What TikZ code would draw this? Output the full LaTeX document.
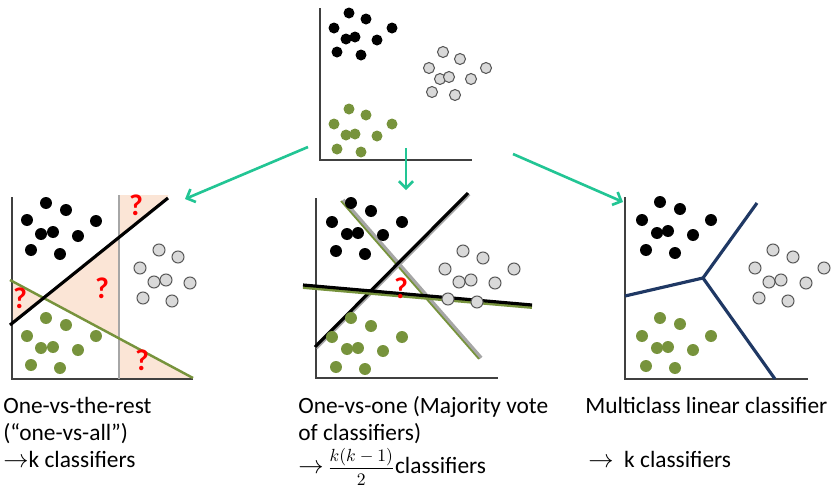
\documentclass[tikz,border=0pt]{standalone}
\usepackage{fontspec}
\usepackage{amsmath}
\setmainfont{Carlito}
\usetikzlibrary{arrows.meta}

\definecolor{dotgreen}{HTML}{77933C}
\definecolor{dotgray}{HTML}{D9D9D9}
\definecolor{rimgray}{HTML}{595959}
\definecolor{arrowteal}{HTML}{22C594}
\definecolor{bordblue}{HTML}{1F3864}
\definecolor{peach}{HTML}{FBE5D6}
\definecolor{axisgray}{HTML}{404040}
\definecolor{splitgray}{HTML}{A6A6A6}

\tikzset{
  blackdot/.style={fill=black},
  graydot/.style={fill=dotgray,draw=rimgray,line width=0.6pt},
  greendot/.style={fill=dotgreen},
  axisline/.style={axisgray,line width=0.8pt},
  flowarrow/.style={arrowteal,line width=1.5pt,-{Straight Barb[length=4pt,width=8pt]}},
  qmark/.style={text=red,inner sep=0pt,font=\bfseries\fontsize{17}{17}\selectfont},
  caption/.style={anchor=base west,inner sep=0pt,font=\fontsize{13.3}{16}\selectfont}
}

\begin{document}
\begin{tikzpicture}[x=0.02cm,y=-0.02cm]
\useasboundingbox (0,0) rectangle (833,487);

% top panel
\draw[axisline] (320,8) |- (472,160);
\foreach \x/\y in {349/13,366/19,334/28,346/39,355/37,377/40,392/28,337/52,361/55}
  \fill[blackdot] (\x,\y) circle[radius=0.11cm];
\foreach \x/\y in {443/52,460/59,429/68,440/79,449/77,471/79,486/68,432/92,455/95}
  \filldraw[graydot] (\x,\y) circle[radius=0.11cm];
\foreach \x/\y in {349/109,366/115,334/124,346/135,355/134,377/136,392/124,337/149,361/152}
  \fill[greendot] (\x,\y) circle[radius=0.11cm];

\coordinate (srcL) at (308,147);
\coordinate (srcM) at (406,148);
\coordinate (srcR) at (513,154);
\coordinate (dstL) at (185,199);
\coordinate (dstM) at (406,190);
\coordinate (dstR) at (623,202);
\draw[flowarrow] (srcL) -- (dstL);
\draw[flowarrow] (srcM) -- (dstM);
\draw[flowarrow] (srcR) -- (dstR);

% one-vs-the-rest
\fill[peach] (119,195) -- (168,195) -- (168,198) -- (119,237) -- cycle;
\fill[peach] (119,237) -- (119,338) -- (43.6,298) -- cycle;
\fill[peach] (12,281) -- (12,323.5) -- (43.6,298) -- cycle;
\fill[peach] (119,338) -- (119,379) -- (193,379) -- cycle;
\draw[axisline] (12,197) |- (193,379);
\draw[splitgray,line width=1.3pt] (119,195) -- (119,379);
\draw[dotgreen,line width=1.4pt] (10,280) -- (193,378);
\draw[black,line width=1.8pt] (10,325) -- (168,198);
\foreach \x/\y in {46/203,66/210,27/220,96/221,41/234,53/232,78/236,31/250,60/254}
  \fill[blackdot] (\x,\y) circle[radius=0.12cm];
\foreach \x/\y in {159/250,178/257,140/268,154/282,166/280,190/283,143/298,172/301}
  \filldraw[graydot] (\x,\y) circle[radius=0.12cm];
\foreach \x/\y in {46/318,66/325,27/336,96/336,41/348,53/347,78/350,31/365,60/368}
  \fill[greendot] (\x,\y) circle[radius=0.12cm];
\node[qmark] (q1) at (136,205) {?};
\node[qmark] (q2) at (102,288) {?};
\node[qmark] (q3) at (20,298) {?};
\node[qmark] (q4) at (142,360) {?};

% one-vs-one
\draw[axisline] (316,198) |- (498,378);
\draw[splitgray,line width=2.2pt] (343,200) -- (481,358);
\draw[dotgreen,line width=1pt] (341,201) -- (479,359);
\draw[splitgray,line width=2.2pt] (316,348) -- (469,194);
\draw[black,line width=1.8pt] (315,347) -- (468,193);
\draw[dotgreen,line width=2.2pt] (303,287) -- (532,307);
\draw[black,line width=1.8pt] (303,285) -- (532,305);
\foreach \x/\y in {351/203,371/211,332/222,402/222,347/234,358/233,383/235,336/251,365/254}
  \fill[blackdot] (\x,\y) circle[radius=0.12cm];
\foreach \x/\y in {463/251,483/258,445/269,459/282,471/280,495/283,514/269,448/299,477/302}
  \filldraw[graydot] (\x,\y) circle[radius=0.12cm];
\foreach \x/\y in {351/318,371/326,332/337,402/337,347/349,358/348,383/351,336/367,365/369}
  \fill[greendot] (\x,\y) circle[radius=0.12cm];
\node[qmark] (q5) at (401,288) {?};

% multiclass
\draw[axisline] (625,197) |- (808,379);
\coordinate (hub) at (703,278);
\draw[bordblue,line width=1.8pt] (hub) -- (757,203);
\draw[bordblue,line width=1.8pt] (hub) -- (625,296);
\draw[bordblue,line width=1.8pt] (hub) -- (775,379);
\foreach \x/\y in {660/202,680/209,642/220,711/220,657/233,668/231,693/235,646/250,675/253}
  \fill[blackdot] (\x,\y) circle[radius=0.12cm];
\foreach \x/\y in {773/250,793/257,755/268,769/282,781/280,806/283,824/268,759/298,788/301}
  \filldraw[graydot] (\x,\y) circle[radius=0.12cm];
\foreach \x/\y in {660/318,680/324,642/336,711/336,657/348,668/347,693/350,646/366,675/368}
  \fill[greendot] (\x,\y) circle[radius=0.12cm];

% captions
\node[caption] (restA) at (3,413) {One-vs-the-rest};
\node[caption] (restB) at (3,440) {(``one-vs-all'')};
\node[caption] (restC) at (3,467) {$\rightarrow$k classifiers};
\node[caption] (oneA) at (298,413) {One-vs-one (Majority vote};
\node[caption] (oneB) at (298,440) {of classifiers)};
\node[caption] (oneC) at (298,473) {$\rightarrow$\,{\fontsize{10}{10}\selectfont$\dfrac{k(k-1)}{2}$}classifiers};
\node[caption] (multiA) at (585,413) {Multiclass linear classifier};
\node[caption] (multiC) at (588,467) {$\rightarrow$\ \ k classifiers};
\end{tikzpicture}
\end{document}
